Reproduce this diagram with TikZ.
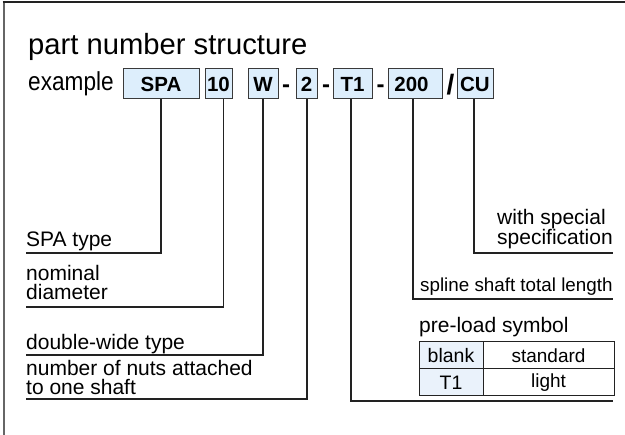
\documentclass[tikz,border=0pt]{standalone}
\usepackage{fontspec}
\setmainfont{Liberation Sans}
\definecolor{boxfill}{HTML}{DDEEFC}
\definecolor{cellfill}{HTML}{EAF2FB}
\definecolor{boxline}{HTML}{3A3A3A}
\definecolor{linecol}{HTML}{222222}
\definecolor{framecol}{HTML}{666666}
\begin{document}
\begin{tikzpicture}[x=1pt,y=-1pt,
  lbl/.style={anchor=base west, inner sep=0pt, font=\fontsize{21}{24}\selectfont},
  pbox/.style={draw=boxline, fill=boxfill, line width=1pt, inner sep=0pt, minimum height=30pt, font=\bfseries\fontsize{20.5}{22}\selectfont},
  sep/.style={inner sep=0pt, anchor=base, font=\bfseries\fontsize{24}{26}\selectfont},
  conn/.style={draw=linecol, line width=1.1pt},
  cell/.style={draw=linecol, line width=1pt, inner sep=0pt, minimum height=27pt, font=\fontsize{19.5}{22}\selectfont},
  frame/.style={line width=2pt}
]
\useasboundingbox (0,0) rectangle (625,435);
% frame
\draw[frame, draw=framecol] (3.5,435) -- (3.5,3);
\draw[frame, draw=linecol] (2.5,2.5) -- (625,2.5);
% title
\node[lbl, font=\fontsize{29.2}{32}\selectfont] (title) at (28,55) {part number structure};
\node[lbl] (ex) at (28,91) {\scalebox{0.87}[1]{\fontsize{26}{28}\selectfont example}};
% boxes
\node[pbox, minimum width=76pt] (spa) at (161,84) {SPA};
\node[pbox, minimum width=27pt] (ten) at (218.5,84) {10};
\node[pbox, minimum width=30pt] (w) at (263,84) {W};
\node[pbox, minimum width=21pt] (two) at (306.5,84) {2};
\node[pbox, minimum width=39pt] (t1) at (352.5,84) {T1};
\node[pbox, minimum width=54pt] (l200) at (415,84) {200\kern7pt};
\node[pbox, minimum width=36pt] (cu) at (475,84) {CU};
\node[sep] (d1) at (286,93) {-};
\node[sep] (d2) at (326,93) {-};
\node[sep] (d3) at (380.5,93) {-};
\node[sep, font=\bfseries\fontsize{28}{30}\selectfont] (sl) at (450.5,95) {/};
% end coordinates
\coordinate (e1) at (26,253);
\coordinate (e2) at (26,307);
\coordinate (e3) at (26,355);
\coordinate (e4) at (26,399);
\coordinate (e5) at (613,401);
\coordinate (e6) at (613,299);
\coordinate (e7) at (613,253);
% connectors
\draw[conn] (spa.south) |- (e1);
\draw[conn] ([xshift=5pt]ten.south) |- (e2);
\draw[conn] (w.south) |- (e3);
\draw[conn] ([xshift=0.5pt]two.south) |- (e4);
\draw[conn] ([xshift=-1.5pt]t1.south) |- (e5);
\draw[conn] ([xshift=-2pt]l200.south) |- (e6);
\draw[conn] ([xshift=-1pt]cu.south) |- (e7);
% labels
\node[lbl] (a) at (26,247) {SPA type};
\node[lbl] (b1) at (26,281) {nominal};
\node[lbl] (b2) at (26,300) {diameter};
\node[lbl] (c) at (26,350) {double-wide type};
\node[lbl] (d1t) at (26,376) {number of nuts attached};
\node[lbl] (d2t) at (26,395) {to one shaft};
\node[lbl] (f1) at (497,225) {with special};
\node[lbl] (f2) at (497,245) {specification};
\node[lbl, font=\fontsize{18.8}{22}\selectfont] (g) at (420,292) {spline shaft total length};
\node[lbl] (h) at (419,333) {pre-load symbol};
% table
\node[cell, fill=cellfill, minimum width=64pt] (c11) at (451,355.5) {blank};
\node[cell, minimum width=131pt, font=\fontsize{19}{22}\selectfont] (c12) at (548.5,355.5) {standard};
\node[cell, fill=cellfill, minimum width=64pt] (c21) at (451,382.5) {T1};
\node[cell, minimum width=131pt, font=\fontsize{19}{22}\selectfont] (c22) at (548.5,382.5) {light};
\end{tikzpicture}
\end{document}
